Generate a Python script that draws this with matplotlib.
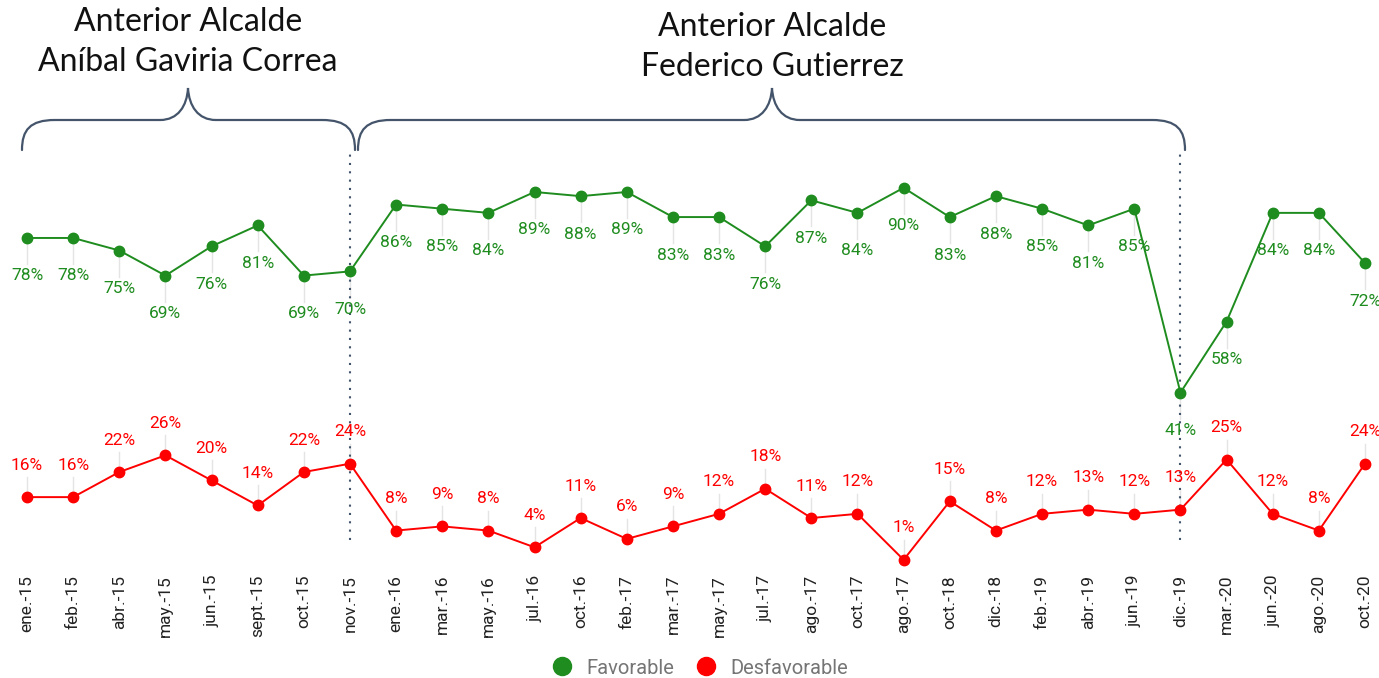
import matplotlib
matplotlib.use("Agg")
import matplotlib.pyplot as plt
from matplotlib.path import Path
from matplotlib.patches import PathPatch
from matplotlib.lines import Line2D

categories = ["ene.-15", "feb.-15", "abr.-15", "may.-15", "jun.-15", "sept.-15", "oct.-15",
              "nov.-15", "ene.-16", "mar.-16", "may.-16", "jul.-16", "oct.-16", "feb.-17",
              "mar.-17", "may.-17", "jul.-17", "ago.-17", "oct.-17", "ago.-17", "oct.-18",
              "dic.-18", "feb.-19", "abr.-19", "jun.-19", "dic.-19", "mar.-20", "jun.-20",
              "ago.-20", "oct.-20"]
favorable = [78, 78, 75, 69, 76, 81, 69, 70, 86, 85, 84, 89, 88, 89, 83, 83, 76, 87, 84, 90,
             83, 88, 85, 81, 85, 41, 58, 84, 84, 72]
desfavorable = [16, 16, 22, 26, 20, 14, 22, 24, 8, 9, 8, 4, 11, 6, 9, 12, 18, 11, 12, 1,
                15, 8, 12, 13, 12, 13, 25, 12, 8, 24]
series_names = ["Favorable", "Desfavorable"]
period_titles = ["Anterior Alcalde\nAníbal Gaviria Correa", "Anterior Alcalde\nFederico Gutierrez"]
separators = [7, 25]

W, H = 1379, 678
GREEN = "#1e8c1e"
RED = "#ff0000"
SLATE = "#44546a"

fig = plt.figure(figsize=(W / 100, H / 100), dpi=100)
ax_bottom_px = 568
ax = fig.add_axes([0, 1 - ax_bottom_px / H, 1, ax_bottom_px / H])

x = list(range(len(categories)))
step = (1365 - 27) / 29
ax.set_xlim(-27 / step, 29 + (W - 1365) / step)
ppv = 4.18
ax.set_ylim((564 - ax_bottom_px) / ppv, 564 / ppv)

for s in ax.spines.values():
    s.set_visible(False)
ax.set_yticks([])
ax.set_xticks(x)
ax.set_xticklabels(categories, rotation=90, fontsize=12.5, color="#222222",
                   family=["Roboto", "DejaVu Sans"], va="top")
ax.tick_params(axis="x", length=0, pad=5)

lab_font = dict(fontsize=12.5, family=["Roboto", "DejaVu Sans"], ha="center", va="center")
for i, v in enumerate(favorable):
    ax.plot([i, i], [v, v - 26 / ppv], color="#e4e4e4", lw=1, zorder=1)
    ax.text(i, v - 38 / ppv, f"{v}%", color=GREEN, **lab_font, zorder=5)
for i, v in enumerate(desfavorable):
    ax.plot([i, i], [v, v + 20 / ppv], color="#e4e4e4", lw=1, zorder=1)
    ax.text(i, v + 32 / ppv, f"{v}%", color=RED, **lab_font, zorder=5)

ax.plot(x, favorable, color=GREEN, lw=1.4, marker="o", ms=7.5, zorder=3, clip_on=False)
ax.plot(x, desfavorable, color=RED, lw=1.4, marker="o", ms=7.5, zorder=3, clip_on=False)

for xi in separators:
    ax.vlines(xi, (564 - 540) / ppv, (564 - 150) / ppv, colors=SLATE, linestyles=(0, (1, 3)),
              lw=1.5, zorder=2)

def px(xp, yp):
    return (xp / W, 1 - yp / H)

def bracket(x0, x1, xc, ytop=120, yend=150, ycusp=88):
    pts = [px(x0, yend), px(x0, 130), px(x0 + 8, ytop), px(x0 + 33, ytop),
           px(xc - 28, ytop),
           px(xc - 10, ytop), px(xc - 1, 106), px(xc, ycusp),
           px(xc + 1, 106), px(xc + 10, ytop), px(xc + 28, ytop),
           px(x1 - 33, ytop),
           px(x1 - 8, ytop), px(x1, 130), px(x1, yend)]
    codes = [Path.MOVETO, Path.CURVE4, Path.CURVE4, Path.CURVE4,
             Path.LINETO,
             Path.CURVE4, Path.CURVE4, Path.CURVE4,
             Path.CURVE4, Path.CURVE4, Path.CURVE4,
             Path.LINETO,
             Path.CURVE4, Path.CURVE4, Path.CURVE4]
    patch = PathPatch(Path(pts, codes), fill=False, edgecolor=SLATE, lw=1.6,
                      transform=fig.transFigure, capstyle="round")
    fig.add_artist(patch)

bracket(22, 355, 188)
bracket(358, 1185, 772)

title_font = dict(fontsize=23, family=["Lato", "DejaVu Sans"], color="#111111",
                  ha="center", va="center", linespacing=1.4)
fig.text(188 / W, 1 - 42 / H, period_titles[0], **title_font)
fig.text(772 / W, 1 - 47 / H, period_titles[1], **title_font)

handles = [Line2D([], [], ls="none", marker="o", ms=13, color=GREEN),
           Line2D([], [], ls="none", marker="o", ms=13, color=RED)]
leg = fig.legend(handles, series_names, loc="center", bbox_to_anchor=(695 / W, 1 - 668 / H),
                 ncol=2, frameon=False, handletextpad=0.2, columnspacing=0.6,
                 prop={"family": ["Roboto", "DejaVu Sans"], "size": 14.5})
for t in leg.get_texts():
    t.set_color("#757575")

fig.savefig("out.png", dpi=100)
